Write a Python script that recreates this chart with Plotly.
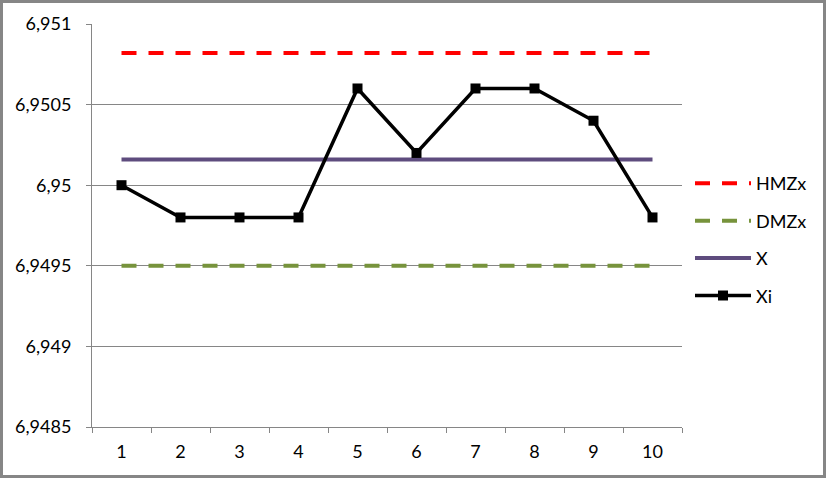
import plotly.graph_objects as go

categories = ["1", "2", "3", "4", "5", "6", "7", "8", "9", "10"]
xi_values = [6.95, 6.9498, 6.9498, 6.9498, 6.9506, 6.9502, 6.9506, 6.9506, 6.9504, 6.9498]
hmzx_value = 6.95082
dmzx_value = 6.9495
x_mean_value = 6.95016
y_tickvals = [6.9485, 6.949, 6.9495, 6.95, 6.9505, 6.951]
y_ticktext = ["6,9485", "6,949", "6,9495", "6,95", "6,9505", "6,951"]

n = len(categories)
font_family = "Lato, 'Open Sans', 'Noto Sans', sans-serif"

fig = go.Figure()
fig.add_trace(go.Scatter(x=categories, y=[hmzx_value] * n, mode="lines", name="HMZx",
                         line=dict(color="#FF0000", width=4, dash="15px,12px"),
                         legendgroup="a"))
fig.add_trace(go.Scatter(x=categories, y=[dmzx_value] * n, mode="lines", name="DMZx",
                         line=dict(color="#77933C", width=4, dash="15px,12px"),
                         legendgroup="b"))
fig.add_trace(go.Scatter(x=categories, y=[x_mean_value] * n, mode="lines", name="X",
                         line=dict(color="#5E4C7E", width=4),
                         legendgroup="c"))
fig.add_trace(go.Scatter(x=categories, y=xi_values, mode="lines+markers", name="Xi",
                         line=dict(color="#000000", width=3.5),
                         marker=dict(symbol="square", size=10, color="#000000"),
                         legendgroup="d"))

W, H = 826, 478
ml, mr, mt, mb = 92, 144, 24, 51
pw, ph = W - ml - mr, H - mt - mb

fig.update_layout(
    width=W, height=H,
    margin=dict(l=ml, r=mr, t=mt, b=mb),
    paper_bgcolor="white", plot_bgcolor="white",
    font=dict(family=font_family, size=18, color="#000000"),
    showlegend=True,
    legend=dict(x=1.0 + 8 / pw, xanchor="left", y=0.465, yanchor="middle",
                font=dict(size=18), tracegroupgap=11,
                bgcolor="rgba(0,0,0,0)", itemwidth=56),
    xaxis=dict(type="category", range=[-0.5, n - 0.5], tickson="boundaries",
               ticks="outside", ticklen=5, tickcolor="#868686",
               showline=True, linecolor="#868686", linewidth=1,
               showgrid=False, zeroline=False, ticklabelstandoff=8,
               tickfont=dict(size=18)),
    yaxis=dict(range=[6.9485, 6.951], tickvals=y_tickvals, ticktext=y_ticktext,
               ticks="outside", ticklen=5, tickcolor="#868686",
               showline=True, linecolor="#868686", linewidth=1,
               showgrid=True, gridcolor="#868686", gridwidth=1,
               zeroline=False, ticklabelstandoff=11, tickfont=dict(size=18)),
)

# outer chart border
fig.add_shape(type="rect", xref="paper", yref="paper",
              x0=(-ml + 1.5) / pw, x1=(pw + mr - 1.5) / pw,
              y0=(-mb + 1.5) / ph, y1=(ph + mt - 1.5) / ph,
              line=dict(color="#868686", width=3), fillcolor="rgba(0,0,0,0)",
              layer="below")

fig.write_html("out.html", config={"displayModeBar": False},
               post_script="document.body.style.margin='0';document.body.style.overflow='hidden';")
